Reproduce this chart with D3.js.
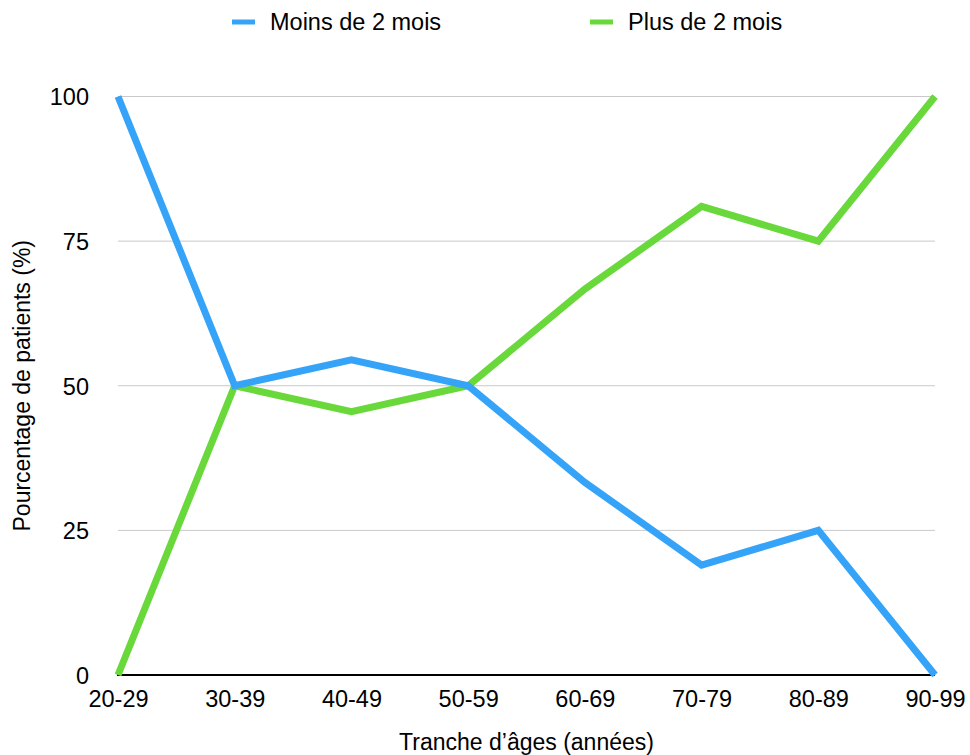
<!DOCTYPE html>
<html>
<head>
<meta charset="utf-8">
<script src="https://cdn.jsdelivr.net/npm/d3@7"></script>
<style>
  html, body { margin: 0; padding: 0; background: #fff; }
  svg text { font-family: "Liberation Sans", Arial, Helvetica, sans-serif; fill: #000; }
</style>
</head>
<body>
<svg id="chart" width="970" height="755"></svg>
<script>
  // Tranches d'âge et pourcentages
  var categories = ["20-29", "30-39", "40-49", "50-59", "60-69", "70-79", "80-89", "90-99"];
  var moinsDe2Mois = [100, 50, 54.5, 50, 33.3, 19, 25, 0];
  var plusDe2Mois = [0, 50, 45.5, 50, 66.7, 81, 75, 100];
  var yTicks = [0, 25, 50, 75, 100];

  (function () {
    var series = [
      { name: "Moins de 2 mois", values: moinsDe2Mois, color: "#35a4f8" },
      { name: "Plus de 2 mois", values: plusDe2Mois, color: "#68d83a" }
    ];

    var svg = d3.select("#chart");
    var plotLeft = 118, plotRight = 935, plotTop = 96.5, plotBottom = 675;

    var x = d3.scalePoint()
        .domain(categories)
        .range([plotLeft, plotRight]);

    var y = d3.scaleLinear()
        .domain([0, 100])
        .range([plotBottom, plotTop]);

    // Gridlines
    svg.append("g")
        .selectAll("line")
        .data(yTicks.filter(function (d) { return d > 0; }))
        .enter()
        .append("line")
        .attr("x1", plotLeft)
        .attr("x2", plotRight)
        .attr("y1", function (d) { return y(d); })
        .attr("y2", function (d) { return y(d); })
        .attr("stroke", "#c9c9c9")
        .attr("stroke-width", 1);

    // Y axis labels
    var yAxis = d3.axisLeft(y).tickValues(yTicks).tickSize(0).tickPadding(29);
    svg.append("g")
        .attr("transform", "translate(" + plotLeft + ",0)")
        .call(yAxis)
        .call(function (g) { g.select(".domain").remove(); })
        .selectAll("text")
        .attr("font-size", 23.5)
        .attr("dy", "0.36em");

    // X axis
    var xAxis = d3.axisBottom(x).tickSize(0).tickPadding(12);
    var xg = svg.append("g")
        .attr("transform", "translate(0," + plotBottom + ")")
        .call(xAxis);
    xg.select(".domain")
        .attr("stroke", "#000")
        .attr("stroke-width", 2)
        .attr("d", "M" + (plotLeft - 1) + ",0H" + plotRight);
    xg.selectAll("text")
        .attr("font-size", 23.5)
        .attr("dy", "0.85em");

    // Lines (green first so blue sits on top)
    var line = d3.line()
        .x(function (d, i) { return x(categories[i]); })
        .y(function (d) { return y(d); });

    svg.append("g")
        .selectAll("path")
        .data(series.slice().reverse())
        .enter()
        .append("path")
        .attr("fill", "none")
        .attr("stroke", function (d) { return d.color; })
        .attr("stroke-width", 7)
        .attr("d", function (d) { return line(d.values); });

    // Axis titles
    svg.append("text")
        .attr("x", (plotLeft + plotRight) / 2)
        .attr("y", 750)
        .attr("text-anchor", "middle")
        .attr("font-size", 23)
        .text("Tranche d\u2019âges (années)");

    svg.append("text")
        .attr("transform", "translate(30," + ((plotTop + plotBottom) / 2) + ") rotate(-90)")
        .attr("text-anchor", "middle")
        .attr("font-size", 23)
        .text("Pourcentage de patients (%)");

    // Legend
    var legendX = [232, 590];
    var legend = svg.append("g")
        .selectAll("g")
        .data(series)
        .enter()
        .append("g")
        .attr("transform", function (d, i) { return "translate(" + legendX[i] + ",22)"; });

    legend.append("line")
        .attr("x1", 0)
        .attr("x2", 23)
        .attr("stroke", function (d) { return d.color; })
        .attr("stroke-width", 5);

    legend.append("text")
        .attr("x", 38)
        .attr("dy", "0.36em")
        .attr("font-size", 23.5)
        .text(function (d) { return d.name; });
  })();
</script>
</body>
</html>
